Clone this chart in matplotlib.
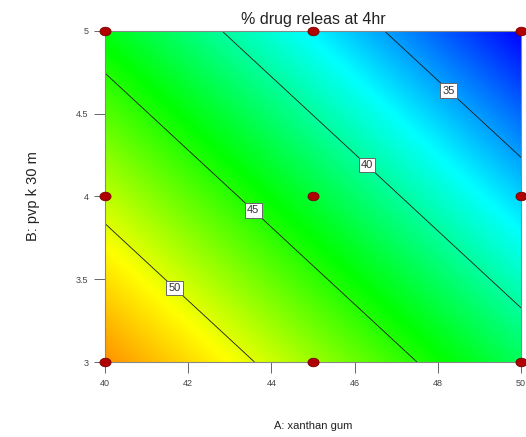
import matplotlib
matplotlib.use("Agg")
import matplotlib.pyplot as plt
import numpy as np
from matplotlib.colors import LinearSegmentedColormap
from matplotlib.path import Path
from matplotlib.transforms import Affine2D

plt.rcParams['font.family'] = ['Liberation Sans', 'DejaVu Sans']

# design points (A: xanthan gum, B: pvp k 30 m)
design_a = [40, 45, 50, 40, 45, 50, 40, 45, 50]
design_b = [3, 3, 3, 4, 4, 4, 5, 5, 5]

# linear model in coded units
b0 = 42.7
coef_a = -6.4
coef_b = -5.5
levels = [35, 40, 45, 50]
label_pos = [(48.34, 4.66), (46.37, 4.21), (43.65, 3.94), (41.75, 3.47)]

xticks = [40, 42, 44, 46, 48, 50]
yticks = [3, 3.5, 4, 4.5, 5]

fig = plt.figure(figsize=(5.26, 4.37), dpi=100)
ax = fig.add_axes([0.1996, 0.1716, 0.7909, 0.7575])

ga = np.linspace(40, 50, 300)
gb = np.linspace(3, 5, 300)
A, B = np.meshgrid(ga, gb)
R = b0 + coef_a * (A - 45) / 5 + coef_b * (B - 4) / 1

cmap = LinearSegmentedColormap.from_list(
    "de", [(0.0, "#0000ff"), (0.25, "#00ffff"), (0.5, "#00ff00"),
           (0.75, "#ffff00"), (1.0, "#ff4000")])
ax.imshow(R, extent=[40, 50, 3, 5], origin="lower", aspect="auto",
          cmap=cmap, vmin=30.8, vmax=57.5, interpolation="bilinear")

cs = ax.contour(A, B, R, levels=levels, colors="#1a1a1a", linewidths=0.6)
lbls = ax.clabel(cs, fmt="%d", fontsize=8, inline=True, inline_spacing=2,
                 manual=label_pos)
for t in lbls:
    t.set_rotation(0)
    t.set_color("#333333")
    t.set_bbox(dict(boxstyle="square,pad=0.2", fc="white", ec="#666666", lw=0.7))

ell = Path.unit_circle().transformed(Affine2D().scale(1.3, 1.0))
ax.plot(design_a, design_b, linestyle="none", marker=ell, markersize=8,
        mfc="#b00000", mec="#7a0000", mew=0.6, clip_on=False, zorder=5)

ax.set_xlim(40, 50)
ax.set_ylim(3, 5)
ax.set_xticks(xticks)
ax.set_yticks(yticks)
ax.set_xticklabels([str(v) for v in xticks])
ax.set_yticklabels(["3", "3.5", "4", "4.5", "5"])
ax.tick_params(direction="out", length=8, width=0.7, color="#666666",
               labelsize=6.5, labelcolor="#444444", pad=4)
for s in ax.spines.values():
    s.set_color("#888888")
    s.set_linewidth(0.8)

ax.set_title("% drug releas at 4hr", fontsize=11.5, color="#222222", pad=5)
ax.set_xlabel("A: xanthan gum", fontsize=8, color="#222222", labelpad=24)
ax.set_ylabel("B: pvp k 30 m", fontsize=10.5, color="#222222", labelpad=26)

fig.savefig("out.png", dpi=100)
